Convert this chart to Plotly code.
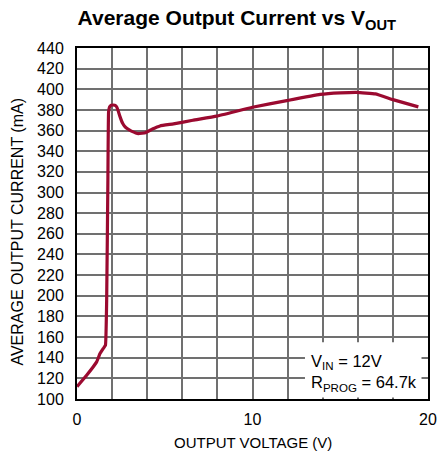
import plotly.graph_objects as go

vout = [0, 0.55, 1.12, 1.31, 1.5, 1.62, 1.69, 1.76, 1.80, 1.86, 1.95, 2.15, 2.26, 2.35, 2.45, 2.6, 2.73, 2.9, 3.1,
        3.5, 3.9, 4.3, 4.73, 5.5, 6.6, 7.96, 10.0, 11.95, 13.85, 15.0, 15.94, 17.0, 18.0, 19.45]
iout = [112, 123, 136, 144, 149, 152, 195, 312, 378, 383, 384.5, 384.5, 383, 379, 373.5, 367, 363.8, 361.5, 359.5,
        357, 358, 361.5, 364.5, 366.5, 370, 374, 382.6, 389, 395, 396.5, 397, 395.5, 390, 383]

x_ticks = [0, 10, 20]
y_ticks = list(range(100, 441, 20))

FONT = "Liberation Sans, Arial, sans-serif"

fig = go.Figure()
fig.add_trace(go.Scatter(x=vout, y=iout, mode="lines",
                         line=dict(color="#9b0a30", width=3.2, shape="spline", smoothing=0.3),
                         hoverinfo="skip", showlegend=False))

fig.update_layout(
    width=437, height=460,
    margin=dict(l=77, r=9, t=48, b=61, autoexpand=False),
    paper_bgcolor="white", plot_bgcolor="white",
    font=dict(family=FONT, color="black"),
    title=dict(text="<b>Average Output Current vs V<sub>OUT</sub></b>",
               x=0.542, xanchor="center", y=0.961, yanchor="middle",
               font=dict(family=FONT, size=21, color="black")),
    xaxis=dict(range=[0, 20], tickvals=x_ticks, ticktext=[str(v) for v in x_ticks],
               showgrid=True, gridcolor="#707070", gridwidth=1.5,
               showline=True, linecolor="black", linewidth=2, mirror=True,
               ticks="outside", ticklen=5, tickcolor="white", tickfont=dict(size=16),
               minor=dict(dtick=2, showgrid=True, gridcolor="#707070", gridwidth=1.5),
               zeroline=False, automargin=False),
    yaxis=dict(range=[100, 440], tickvals=y_ticks, ticktext=[str(v) for v in y_ticks],
               showgrid=True, gridcolor="#707070", gridwidth=1.5,
               showline=True, linecolor="black", linewidth=2, mirror=True,
               ticks="outside", ticklen=8, tickcolor="white", tickfont=dict(size=16),
               zeroline=False, automargin=False),
)

# axis titles
fig.add_annotation(xref="paper", yref="paper", x=0.5, y=-0.02, yshift=-36,
                   xanchor="center", yanchor="middle", text="OUTPUT VOLTAGE (V)",
                   showarrow=False, font=dict(family=FONT, size=15, color="black"))
fig.add_annotation(xref="paper", yref="paper", x=0, xshift=-59, y=0.477,
                   xanchor="center", yanchor="middle", textangle=-90,
                   text="AVERAGE OUTPUT CURRENT (mA)",
                   showarrow=False, font=dict(family=FONT, size=16, color="black"))

fig.add_shape(type="rect", xref="x", yref="y", x0=12.99, x1=19.63, y0=101.5, y1=155,
              fillcolor="white", line=dict(width=0), layer="above")
fig.add_annotation(xref="x", yref="y", x=13.2, y=125.6, xanchor="left", yanchor="middle",
                   text="V<sub>IN</sub> = 12V<br>R<sub>PROG</sub> = 64.7k", align="left",
                   showarrow=False, font=dict(family=FONT, size=16.5, color="black"))

fig.write_html("out.html", config={"displayModeBar": False},
               post_script="document.body.style.margin='0';document.body.style.overflow='hidden';")
